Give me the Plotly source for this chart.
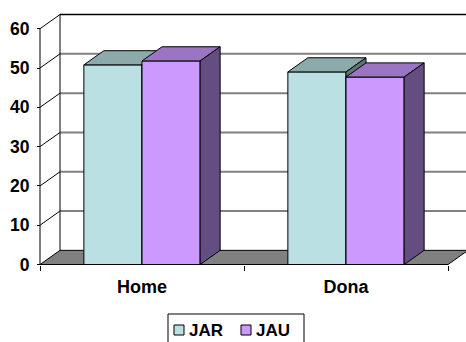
import plotly.graph_objects as go

# ---- data ----
categories = ["Home", "Dona"]
series_names = ["JAR", "JAU"]
jar_values = [50.8, 49.0]
jau_values = [51.8, 47.7]
y_ticks = [0, 10, 20, 30, 40, 50, 60]

# ---- styling ----
front_colors = {"JAR": "#BBE0E3", "JAU": "#CC99FF"}
top_colors = {"JAR": "#8DAAAB", "JAU": "#9B74C4"}
side_colors = {"JAR": "#5E7577", "JAU": "#644D80"}
floor_color = "#808080"
grid_color = "#808080"
font_family = "Liberation Sans, Arial, sans-serif"

# ---- geometry: the plot area fills the whole page ----
W, H = 466, 342
AXIS_X_PX = 40.0     # pixel column of the value axis
AXIS_Y_PX = 264.5    # pixel row of the zero line
SX = 204.0           # pixels per category unit
SY = 3.93            # pixels per value unit
X0 = -0.5 - AXIS_X_PX / SX
X1 = X0 + W / SX
Y0 = -(H - AXIS_Y_PX) / SY
Y1 = Y0 + H / SY
DX = 20 / SX         # depth offset, x
DY = 3.6             # depth offset, y
BAR_W = 0.285
VMAX = y_ticks[-1]


def px_x(p):
    return p / W


def px_y(p):
    return 1 - p / H


fig = go.Figure()

values = {"JAR": jar_values, "JAU": jau_values}
offsets = {"JAR": -BAR_W, "JAU": 0.0}
for k, name in enumerate(series_names):
    vals, off = values[name], offsets[name]
    # front faces of the columns
    fig.add_trace(go.Bar(
        name=name, x=list(range(len(categories))), y=vals,
        width=BAR_W, offset=off, base=0,
        marker=dict(color=front_colors[name], line=dict(color="black", width=1)),
        zorder=2 * k, hoverinfo="skip", showlegend=False,
    ))
    # top and side faces of each column
    for i, v in enumerate(vals):
        xa, xb = i + off, i + off + BAR_W
        fig.add_trace(go.Scatter(
            x=[xa, xb, xb + DX, xa + DX, xa], y=[v, v, v + DY, v + DY, v],
            fill="toself", fillcolor=top_colors[name], mode="lines",
            line=dict(color="black", width=1), showlegend=False,
            hoverinfo="skip", zorder=2 * k + 1,
        ))
        fig.add_trace(go.Scatter(
            x=[xb, xb, xb + DX, xb + DX, xb], y=[0, v, v + DY, DY, 0],
            fill="toself", fillcolor=side_colors[name], mode="lines",
            line=dict(color="black", width=1), showlegend=False,
            hoverinfo="skip", zorder=2 * k + 1,
        ))

shapes = []
xl, xr = -0.5, len(categories) - 0.5
# back-wall gridlines
for v in y_ticks[1:-1]:
    shapes.append(dict(type="line", xref="x", yref="y", layer="below",
                       x0=xl + DX, x1=X1, y0=v + DY, y1=v + DY,
                       line=dict(color=grid_color, width=2)))
# back-wall top edge
shapes.append(dict(type="line", xref="x", yref="y", layer="below",
                   x0=xl + DX, x1=X1, y0=VMAX + DY, y1=VMAX + DY,
                   line=dict(color="black", width=1.5)))
# left-wall slanted gridlines
for v in y_ticks[1:]:
    shapes.append(dict(type="line", xref="x", yref="y", layer="below",
                       x0=xl, x1=xl + DX, y0=v, y1=v + DY,
                       line=dict(color="black", width=1)))
# back-wall left edge
shapes.append(dict(type="line", xref="x", yref="y", layer="below",
                   x0=xl + DX, x1=xl + DX, y0=DY, y1=VMAX + DY,
                   line=dict(color="black", width=1)))
# floor
shapes.append(dict(type="path", xref="x", yref="y", layer="below",
                   path=f"M{xl},0 L{xr},0 L{xr + DX},{DY} L{xl + DX},{DY} Z",
                   fillcolor=floor_color, line=dict(color="black", width=1)))
# front value axis line
shapes.append(dict(type="line", xref="x", yref="y", layer="above",
                   x0=xl, x1=xl, y0=0, y1=VMAX,
                   line=dict(color="black", width=1)))

# legend: bordered box with a swatch and label per series
LEG_L, LEG_R, LEG_T, LEG_B = 168, 304, 314, 343
shapes.append(dict(type="rect", xref="paper", yref="paper", layer="above",
                   x0=px_x(LEG_L), x1=px_x(LEG_R), y0=px_y(LEG_B), y1=px_y(LEG_T),
                   fillcolor="white", line=dict(color="black", width=1)))
annotations = []
swatch_x = {"JAR": 174, "JAU": 241}
for name in series_names:
    sx = swatch_x[name]
    shapes.append(dict(type="rect", xref="paper", yref="paper", layer="above",
                       x0=px_x(sx), x1=px_x(sx + 10), y0=px_y(335), y1=px_y(325),
                       fillcolor=front_colors[name],
                       line=dict(color="black", width=1)))
    annotations.append(dict(
        xref="paper", yref="paper", x=px_x(sx + 12.5), y=px_y(330),
        xanchor="left", yanchor="middle", text=name, showarrow=False,
        font=dict(family=font_family, size=17, color="black", weight="bold"),
    ))

fig.update_layout(
    width=W, height=H,
    margin=dict(l=0, r=0, t=0, b=0, pad=0),
    paper_bgcolor="white", plot_bgcolor="white",
    barmode="overlay",
    shapes=shapes,
    annotations=annotations,
    showlegend=False,
    xaxis=dict(
        range=[X0, X1], domain=[0, 1], anchor="free",
        position=(H - AXIS_Y_PX) / H,
        tickvals=list(range(len(categories))), ticktext=categories,
        ticks="", showgrid=False, zeroline=False, showline=False,
        tickfont=dict(family=font_family, size=18, color="black", weight="bold"),
        ticklabelstandoff=9,
        minor=dict(tickvals=[xl + i for i in range(len(categories) + 1)],
                   ticks="outside", ticklen=5, tickcolor="black", tickwidth=1,
                   showgrid=False),
        fixedrange=True,
    ),
    yaxis=dict(
        range=[Y0, Y1], domain=[0, 1], anchor="free",
        position=AXIS_X_PX / W,
        tickvals=y_ticks, ticks="outside", ticklen=3, tickcolor="black",
        showgrid=False, zeroline=False, showline=False,
        tickfont=dict(family=font_family, size=17.5, color="black", weight="bold"),
        ticklabelstandoff=4,
        fixedrange=True,
    ),
)

fig.write_html("out.html")
